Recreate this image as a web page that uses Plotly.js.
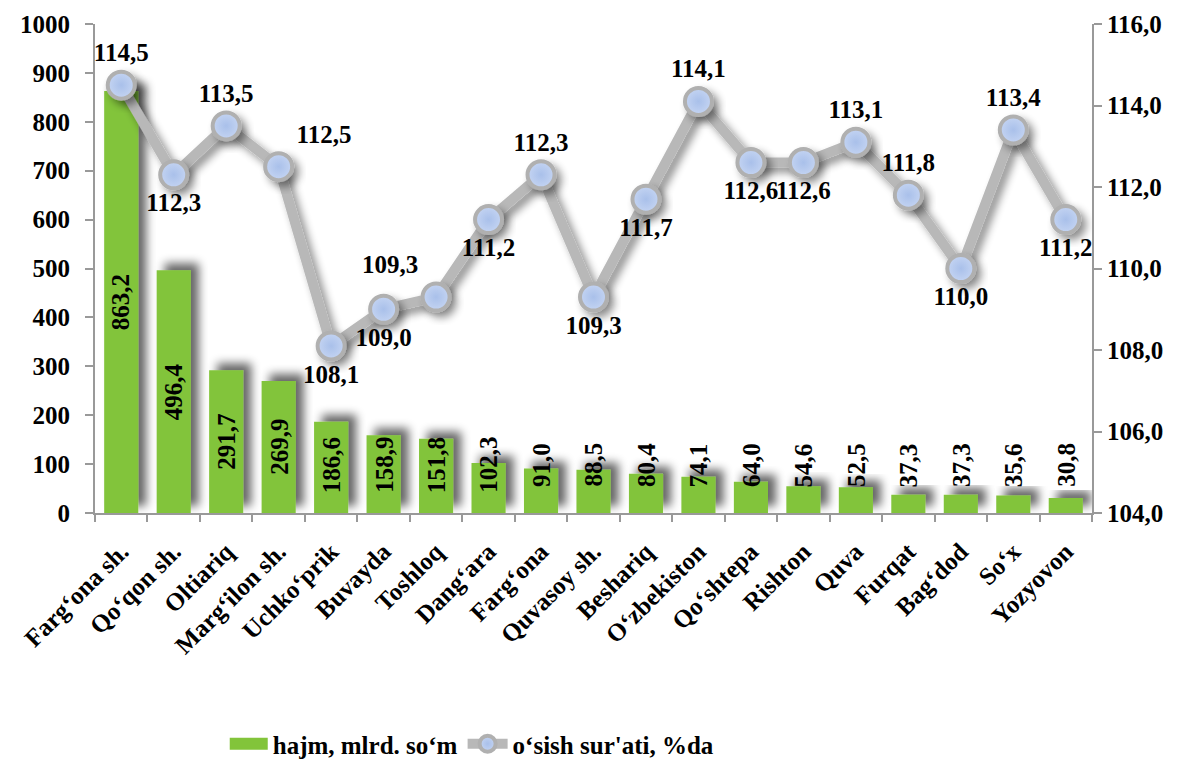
<!DOCTYPE html>
<html>
<head>
<meta charset="utf-8">
<script src="https://cdn.plot.ly/plotly-3.0.1.min.js"></script>
<style>
html,body{margin:0;padding:0;background:#fff;}
#chart{width:1193px;height:767px;}
</style>
</head>
<body>
<div id="chart"></div>
<script>
const categories = ["Farg‘ona sh.","Qo‘qon sh.","Oltiariq","Marg‘ilon sh.","Uchko‘prik","Buvayda","Toshloq","Dang‘ara","Farg‘ona","Quvasoy sh.","Beshariq","O‘zbekiston","Qo‘shtepa","Rishton","Quva","Furqat","Bag‘dod","So‘x","Yozyovon"];
const volume = [863.2,496.4,291.7,269.9,186.6,158.9,151.8,102.3,91.0,88.5,80.4,74.1,64.0,54.6,52.5,37.3,37.3,35.6,30.8];
const growth = [114.5,112.3,113.5,112.5,108.1,109.0,109.3,111.2,112.3,109.3,111.7,114.1,112.6,112.6,113.1,111.8,110.0,113.4,111.2];
const growthLabelPos = ["top center","bottom center","top center","top right","bottom center","bottom center","top left","bottom center","top center","bottom center","bottom center","top center","bottom center","bottom center","top center","top center","bottom center","top center","bottom center"];
const leftTicks = [0,100,200,300,400,500,600,700,800,900,1000];
const rightTicks = [104,106,108,110,112,114,116];

const fmt = v => v.toFixed(1).replace('.', ',');
const FONT = "Liberation Serif";
const FS = 25;
const bold = (s) => ({family: FONT, size: s, color: '#000', weight: 'bold'});

const barTrace = {
  type: 'bar', x: categories, y: volume, name: 'hajm, mlrd. so‘m',
  marker: {color: '#82c43a'}, yaxis: 'y', hoverinfo: 'none'
};
const lineTrace = {
  type: 'scatter', mode: 'lines+markers+text', x: categories, y: growth, yaxis: 'y2',
  name: "o‘sish sur'ati, %da",
  line: {color: '#b8b8b8', width: 10},
  marker: {size: 27, color: '#c4d4f2', line: {color: '#b0b0b0', width: 4},
           gradient: {type: 'radial', color: '#a9c0ea'}},
  text: growth.map(fmt), textposition: growthLabelPos,
  textfont: bold(FS),
  cliponaxis: false, hoverinfo: 'none'
};

// bar value labels (rotated, centered, but kept off the axis)
const annotations = volume.map((v, i) => ({
  x: categories[i], y: Math.max(v / 2, 98), xref: 'x', yref: 'y',
  text: fmt(v), textangle: -90, showarrow: false,
  font: bold(FS)
}));

const layout = {
  width: 1193, height: 767,
  margin: {l: 95, r: 101, t: 24, b: 254},
  paper_bgcolor: '#fff', plot_bgcolor: '#fff',
  separators: ', ',
  font: bold(FS),
  bargap: 0.35,
  showlegend: true,
  legend: {orientation: 'h', xref: 'container', yref: 'container',
           x: 0.395, xanchor: 'center', y: 0.0, yanchor: 'bottom',
           font: bold(FS), itemwidth: 40, traceorder: 'normal', tracegroupgap: 0},
  xaxis: {
    range: [-0.5, categories.length - 0.5],
    tickangle: -45, showline: true, linecolor: '#999', linewidth: 2,
    ticks: 'outside', ticklen: 7, tickcolor: '#999', tickwidth: 2, tickson: 'boundaries',
    ticklabelstandoff: 12,
    tickfont: bold(FS),
    showgrid: false, zeroline: false, fixedrange: true
  },
  yaxis: {
    range: [0, 1000], tickvals: leftTicks, ticktext: leftTicks.map(String),
    showline: true, linecolor: '#999', linewidth: 2,
    ticks: 'outside', ticklen: 8, tickcolor: '#999', tickwidth: 2,
    ticklabelstandoff: 10,
    tickfont: bold(FS),
    showgrid: false, zeroline: false, fixedrange: true
  },
  yaxis2: {
    range: [104, 116], overlaying: 'y', side: 'right', tickvals: rightTicks,
    tickformat: '.1f', showline: true, linecolor: '#999', linewidth: 2,
    ticks: 'outside', ticklen: 8, tickcolor: '#999', tickwidth: 2,
    tickfont: bold(FS),
    showgrid: false, zeroline: false, fixedrange: true
  },
  annotations: annotations
};

Plotly.newPlot('chart', [barTrace, lineTrace], layout, {displayModeBar: false, staticPlot: true}).then(gd => {
  const svg = gd.querySelector('svg.main-svg');
  const ns = 'http://www.w3.org/2000/svg';
  let defs = svg.querySelector('defs');
  if (!defs) { defs = document.createElementNS(ns, 'defs'); svg.insertBefore(defs, svg.firstChild); }
  function mk(id, dx, dy, sd, op) {
    const f = document.createElementNS(ns, 'filter');
    f.setAttribute('id', id); f.setAttribute('x', '-50%'); f.setAttribute('y', '-50%');
    f.setAttribute('width', '200%'); f.setAttribute('height', '200%');
    f.innerHTML = `<feGaussianBlur in="SourceAlpha" stdDeviation="${sd}"/><feOffset dx="${dx}" dy="${dy}" result="ob"/><feComponentTransfer><feFuncA type="linear" slope="${op}"/></feComponentTransfer><feMerge><feMergeNode/><feMergeNode in="SourceGraphic"/></feMerge>`;
    defs.appendChild(f);
  }
  mk('barShadow', 8, -7, 5, 0.6);
  mk('lineShadow', 5, 5, 4, 0.45);
  gd.querySelectorAll('.cartesianlayer .barlayer .point path').forEach(p => p.setAttribute('filter', 'url(#barShadow)'));
  gd.querySelectorAll('.cartesianlayer .scatterlayer .js-line').forEach(p => p.setAttribute('filter', 'url(#lineShadow)'));
  gd.querySelectorAll('.cartesianlayer .scatterlayer .points path').forEach(p => p.setAttribute('filter', 'url(#lineShadow)'));
  // widen the bar legend swatch like the reference
  const first = gd.querySelector('.legend .traces');
  if (first) {
    first.querySelectorAll('.legendpoints path').forEach(p => {
      p.setAttribute('d', 'M-18,6H20V-6H-18Z');
    });
  }
});
</script>
</body>
</html>
